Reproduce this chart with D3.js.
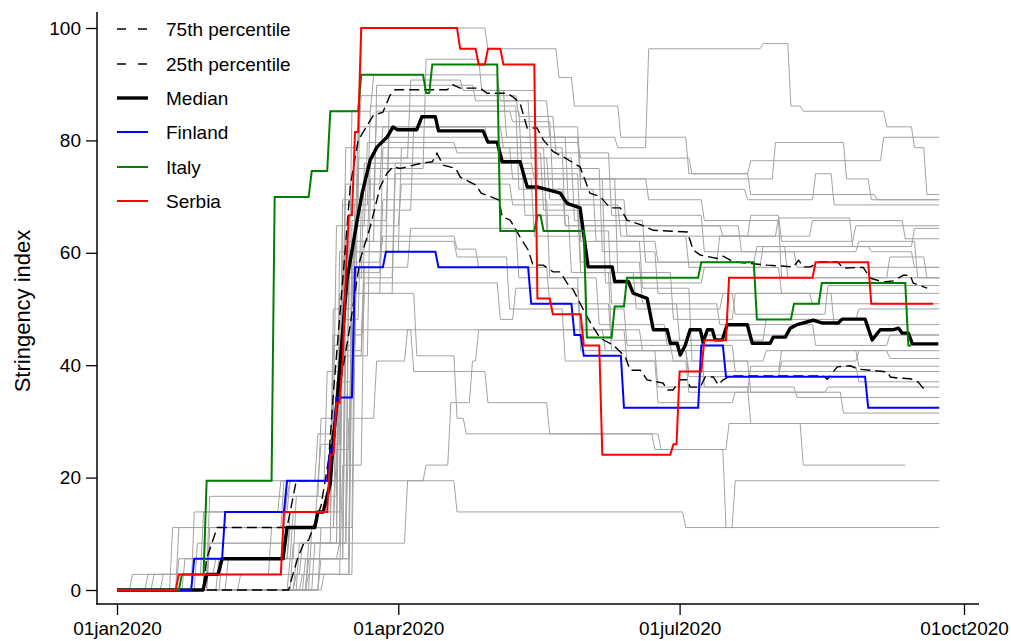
<!DOCTYPE html>
<html><head><meta charset="utf-8">
<script src="https://cdn.jsdelivr.net/npm/d3@7"></script>
<style>body{margin:0;background:#fff} svg{display:block} text{font-family:"Liberation Sans",Arial,sans-serif;fill:#000}</style>
</head><body><svg id="c" width="1011" height="641"></svg>
<script>
// ---------- DATA (day offsets from 01jan2020, stringency index) ----------
const xTickDates = ["2020-01-01","2020-04-01","2020-07-01","2020-10-01"];
const yTicks = [0,20,40,60,80,100];
const legendLabels = ["75th percentile","25th percentile","Median","Finland","Italy","Serbia"];

// Highlighted countries: step change points [day, value]
const finland = [[0,0],[25,5.56],[35,13.89],[55,19.44],[69,25],[71,34.26],[77,57.41],[87,60.19],[104,57.41],[134,50.93],[148,45.37],[151,41.67],[164,32.41],[189,43.52],[197,37.96],[243,32.41]];
const finlandEnd = 266;
const italy = [[0,0],[21,2.78],[29,19.44],[51,69.91],[63,74.54],[69,85.19],[79,91.67],[100,88.43],[102,93.52],[124,63.89],[136,66.67],[138,63.89],[152,44.91],[161,50.46],[165,55.56],[189,58.33],[207,48.15],[219,50.93],[228,54.63],[256,43.52]];
const italyEnd = 257;
const serbia = [[0,0],[20,2.78],[54,13.89],[69,24.07],[71,33.33],[73,40.74],[74,55.56],[75,66.67],[77,81.48],[79,100],[111,96.3],[117,93.52],[120,96.3],[125,93.52],[136,51.85],[141,49.07],[151,43.52],[157,24.07],[180,25.93],[182,38.89],[190,44.44],[198,55.56],[226,58.33],[244,50.93]];
const serbiaEnd = 264;

// Summary lines: points [day, value]
const median = [[0,0],[27.8,0],[29.1,2.78],[32.7,2.78],[34,5.56],[53.7,5.56],[55,11.11],[64,11.11],[65,13.89],[66.7,13.89],[69,19],[70,26.7],[71.2,33.8],[74.4,55.2],[77.7,65.8],[79.3,70.6],[81.9,76.5],[84.1,78.8],[87.4,80.6],[89.3,82.4],[90.6,81.9],[97,81.9],[98.6,84.2],[103,84.2],[104,81.7],[118.4,81.7],[120,79.7],[123,79.7],[124.6,76.2],[130.4,76.2],[132.7,71.7],[136.2,71.7],[143.4,70.6],[145.6,68.8],[149.8,68],[152.4,57.5],[160.2,57.5],[161,54.9],[165.4,54.9],[167,52.8],[171.5,51.9],[173.5,46.3],[178,46.3],[179,43.9],[181.2,43.9],[182.2,41.8],[183.8,43.5],[185.4,46.3],[188.7,46.3],[189.6,44.1],[191,46.3],[192.6,46.3],[193.5,44.5],[195.8,44.5],[197.4,47.2],[203.9,47.2],[205.5,43.9],[211.3,43.9],[212.3,45],[216.2,45],[217.8,46.6],[220,47.2],[225.2,48],[228.2,47.5],[233.3,47.5],[234.6,48.2],[242,48.2],[244.3,44.5],[246.9,46.3],[251,46.3],[252.8,46.6],[254,45.7],[256,45.7],[257.3,43.8],[265.7,43.8]];
const p75 = [[0,0],[27.8,0],[29,5.56],[32.4,11.11],[55,11.11],[58,19.44],[68,19.44],[70,35],[73,55],[75.5,72],[78,80],[83,84.5],[86,85],[88.3,88],[90,89],[106.8,89],[108.7,89.9],[111,89.3],[117.5,89.3],[119.7,88.4],[126.2,88.4],[128.2,87.7],[130.4,86.6],[132.7,82.2],[135.9,82.2],[137.9,80.1],[141.1,78],[144.3,77.1],[147.6,76],[149.8,75.3],[153,70.6],[156.3,70],[159.5,68],[162.8,68],[165,65.8],[169.3,65],[173.5,64],[184.5,63.7],[186.4,60.5],[188.7,59.6],[194.2,59],[196.1,59.4],[199.4,58.4],[210.4,57.8],[218.8,57.5],[220.5,58.7],[222,57.5],[224.3,57.5],[227.5,58.4],[233,58.4],[235,57.3],[241.4,57.4],[243.7,55.5],[247.9,54.8],[251.1,55],[254.4,56],[256.6,56],[257.6,54.6],[262.1,53.7]];
const p25 = [[0,0],[55.5,0],[57,3],[58.6,5.9],[60.5,8.4],[62,8.9],[66,15],[69,25],[72,36],[75.4,47],[78.6,58.7],[81.9,64.6],[83.5,68.1],[85.1,71.7],[87.4,74.2],[89.3,75.3],[91.6,75],[99,76],[102,76.2],[103.5,77.7],[105.5,75.6],[109.6,75],[111,73.5],[116.2,72],[117.8,70.6],[120.7,70],[123.6,69.4],[124.6,66.4],[127.2,65.8],[130.4,62.8],[133,60.5],[134.6,57.8],[137.9,57.8],[141.1,56.6],[143.4,56.6],[145.6,54.6],[147.6,53.4],[149.8,51],[152.1,48.6],[154,46.8],[156.3,44.8],[160.5,43.6],[164.4,41.5],[166,39.1],[169.3,39.1],[171.5,37.4],[176.7,36.8],[178,35.6],[179.9,35.6],[182.2,37.4],[184.5,37.4],[185.4,36.1],[188.7,36.1],[190.3,37.9],[192.9,37.9],[194.5,36.5],[196.1,37.4],[198.4,38.1],[228.5,38.1],[229.8,37.5],[233,39.7],[237.2,39.9],[239.8,39.3],[249.2,38.8],[250.2,37.9],[252.8,37.7],[256.6,37.6],[259.2,37],[260.5,36.1],[261.5,35.6]];

// Other countries (grey): step change points [day, value]
const g1 = [[0,0],[20,11.11],[54,19.44],[70,50],[76,85.19],[83,91.67],[124,87.04],[140,80.56],[162,78.7],[172,96.3],[209,97.22],[218,86.11],[222,85.19],[249,82.41],[258,78.7],[262,70.37]];
const g2 = [[0,0],[30,11.11],[55,19.44],[72,60.19],[78,82.41],[120,79.63],[150,76.85],[186,74.07],[205,76.39],[248,80.56]];
const g3 = [[0,0],[26,8.33],[55,11.11],[73,55.56],[80,75.93],[135,73.15],[213,79.63],[236,73.15],[244,69.44]];
const g4 = [[0,0],[56,5.56],[74,62.04],[82,76.85],[140,69.44],[165,62.96],[205,66.67],[215,62.04],[239,64.81]];
const g5 = [[0,0],[61,5.56],[76,65.74],[88,80.56],[150,71.3],[204,69.44],[226,74.07],[232,68.52]];
const g6 = [[0,0],[62,8.33],[75,56.48],[86,78.7],[145,64.81],[196,62.96],[214,66.2],[238,61.11],[258,64.35]];
const g7 = [[0,0],[22,5.56],[54,11.11],[72,52.78],[90,74.07],[150,62.04],[175,58.33],[207,61.11],[244,60.19],[258,57.41]];
const g8 = [[0,0],[58,2.78],[76,60.19],[92,78.7],[128,73.15],[158,54.63],[190,57.41],[209,61.11],[217,55.56],[250,59.26],[262,55.56]];
const gA = [[0,0],[29,19.44],[100,22.22],[108,33.33],[115,40.74],[117,46.3],[165,40.74],[185,35.19],[205,39.81],[240,37.04]];
const gB = [[0,0],[66,5.56],[72,8.33],[94,19.44],[110,13.89],[184,11.11],[200,19.44]];
const gC = [[0,0],[58,5.56],[74,42.59],[80,52.78],[97,41.67],[110,30.56],[113,27.78],[176,25],[198,29.63],[222,22.22]];
const gD = [[0,0],[60,2.78],[77,46.3],[96,38.89],[120,33.33],[140,27.78],[174,25],[197,11.11]];
const gF = [[0,0],[40,2.78],[60,8.33],[72,45.37],[80,54.63],[124,48.15],[129,53.7],[150,46.3],[170,42.59],[190,45.37]];
const gG = [[0,0],[62,5.56],[76,58.33],[86,62.96],[110,60.65],[117,57.41],[140,50.93],[160,42.59],[185,38.89],[215,42.59],[250,41.2]];
const gJ = [[0,0],[64,8.33],[75,30.56],[84,40.74],[94,46.3],[158,42.59],[185,37.96],[215,40.74],[240,42.59]];
const gK = [[0,0],[33,5.56],[56,13.89],[70,45.37],[74,78.7],[79,87.96],[130,84.26],[142,77.78],[160,66.67],[190,60.19],[220,57.41]];
const gL = [[0,0],[10,2.78],[30,16.67],[56,19.44],[68,38.89],[74,72.22],[86,82.41],[150,73.15],[172,69.44],[190,65.74],[215,55.56]];
const gM = [[0,0],[20,5.56],[57,13.89],[73,50],[77,69.44],[84,85.19],[131,75],[157,60.19],[175,52.78],[200,49.07],[230,54.17]];
const gN = [[0,0],[18,11.11],[55,16.67],[66,30.56],[71,64.81],[81,79.63],[110,77.78],[138,67.59],[150,56.48],[168,50],[196,52.78],[225,50.93]];
const gO = [[0,0],[30,8.33],[55,11.11],[65,19.44],[73,59.26],[78,76.85],[95,90.74],[112,88.89],[126,80.56],[146,68.52],[163,62.96],[185,57.41],[215,52.78]];
const gP = [[0,0],[62,2.78],[76,41.67],[82,73.15],[135,62.96],[152,50],[165,43.52],[180,40.74],[210,42.59],[240,39.81]];
const gQ = [[0,0],[15,2.78],[32,5.56],[55,11.11],[71,25],[76,52.78],[86,69.44],[140,55.56],[156,47.22],[178,43.52],[200,38.89]];
const gR = [[0,0],[34,5.56],[56,11.11],[74,55.56],[90,75.93],[132,66.67],[147,56.48],[160,44.44],[190,36.11],[220,34.26]];
const gS = [[0,0],[66,11.11],[77,60.19],[88,85.19],[128,83.33],[141,71.3],[155,62.04],[170,53.7],[186,40.74],[205,35.19],[235,31.48]];
const gT = [[0,0],[57,8.33],[70,43.52],[78,75],[100,94.44],[118,88.89],[136,73.15],[162,56.48],[180,48.15],[200,52.78],[232,47.22]];
const gU = [[0,0],[67,2.78],[73,22.22],[80,57.41],[95,64.35],[130,55.56],[150,42.59],[175,36.11],[205,29.63]];
const gV = [[0,0],[5,2.78],[28,13.89],[56,19.44],[65,27.78],[73,68.52],[82,86.11],[130,71.3],[145,64.81],[202,60.19],[240,62.04],[259,55.56]];
const gW = [[0,0],[25,13.89],[53,19.44],[66,25.93],[73,69.44],[79,100],[120,96.3],[143,91.2],[148,86.11],[163,80.56],[185,74.07],[205,70.37],[246,69.44]];
const gX = [[0,0],[12,2.78],[50,11.11],[71,37.04],[77,64.81],[92,72.22],[128,68.52],[150,58.33],[170,50.93],[195,47.22],[226,43.52],[250,45.37]];
const gY = [[0,0],[59,8.33],[73,48.15],[79,67.59],[96,82.41],[125,78.7],[139,63.89],[160,50.93],[182,44.44],[210,48.15],[240,50]];
const gZ = [[0,0],[63,11.11],[75,62.04],[84,89.81],[116,87.04],[134,76.85],[148,65.74],[171,58.33],[195,62.96],[225,65.74],[255,62.5]];
const gAA = [[0,0],[36,5.56],[58,16.67],[72,41.67],[80,62.04],[110,59.26],[127,50],[145,40.74],[175,33.33],[200,35.19],[230,36.11]];
const greySeries = [g1,g2,g3,g4,g5,g6,g7,g8,gA,gB,gC,gD,gF,gG,gJ,gK,gL,gM,gN,gO,gP,gQ,gR,gS,gT,gU,gV,gW,gX,gY,gZ,gAA];
const greyEnds = [266,266,266,266,266,266,266,266,266,266,255,266,266,266,266,266,266,266,266,266,266,266,266,266,266,266,266,266,266,266,266,266];

// ---------- DRAWING ----------
const svg = d3.select("#c");
const t0 = Date.UTC(2020,0,1);
const toDate = d => new Date(t0 + d*864e5);
const x = d3.scaleUtc().domain([toDate(0), new Date(Date.UTC(2020,9,1))]).range([117,964]);
const y = d3.scaleLinear().domain([0,100]).range([590,28]);

// daily step series: a change on day d is reached from the previous value on day d-1
function stepPoints(ch, end){
  const pts=[];
  ch.forEach((c,i)=>{ if(i>0) pts.push([c[0]-1, ch[i-1][1]]); pts.push(c); });
  pts.push([end, ch[ch.length-1][1]]);
  return pts;
}
const line = d3.line().x(d=>x(toDate(d[0]))).y(d=>y(d[1]));

const plot = svg.append("g");
greySeries.forEach((s,i)=>{
  plot.append("path").attr("d", line(stepPoints(s, greyEnds[i])))
    .attr("fill","none").attr("stroke","#a3a3a3").attr("stroke-width",1);
});
plot.append("path").attr("d", line(p75)).attr("fill","none").attr("stroke","#000").attr("stroke-width",1.4).attr("stroke-dasharray","10,5");
plot.append("path").attr("d", line(p25)).attr("fill","none").attr("stroke","#000").attr("stroke-width",1.4).attr("stroke-dasharray","10,5");
plot.append("path").attr("d", line(median)).attr("fill","none").attr("stroke","#000").attr("stroke-width",3.4).attr("stroke-linejoin","round");
plot.append("path").attr("d", line(stepPoints(finland, finlandEnd))).attr("fill","none").attr("stroke","#0000ff").attr("stroke-width",2);
plot.append("path").attr("d", line(stepPoints(italy, italyEnd))).attr("fill","none").attr("stroke","#008000").attr("stroke-width",2);
plot.append("path").attr("d", line(stepPoints(serbia, serbiaEnd))).attr("fill","none").attr("stroke","#ff0000").attr("stroke-width",2);

// axes
const yAxis = d3.axisLeft(y).tickValues(yTicks).tickSize(11).tickPadding(5);
const gy = svg.append("g").attr("transform","translate(97,0)").call(yAxis);
gy.select(".domain").remove();
gy.selectAll("line").attr("stroke","#000").attr("stroke-width",1.3);
gy.selectAll("text").style("font-size","19px").style("font-family",'"Liberation Sans",Arial,sans-serif');

const xDates = xTickDates.map(s=>new Date(s+"T00:00:00Z"));
const fmt = d3.utcFormat("%d%b%Y");
const xAxis = d3.axisBottom(x).tickValues(xDates).tickSize(11).tickPadding(7).tickFormat(d=>fmt(d).toLowerCase());
const gx = svg.append("g").attr("transform","translate(0,604)").call(xAxis);
gx.select(".domain").remove();
gx.selectAll("line").attr("stroke","#000").attr("stroke-width",1.3);
gx.selectAll("text").style("font-size","19px").style("font-family",'"Liberation Sans",Arial,sans-serif');

svg.append("line").attr("x1",97).attr("x2",97).attr("y1",12).attr("y2",604.6).attr("stroke","#000").attr("stroke-width",1.5);
svg.append("line").attr("x1",96.3).attr("x2",979).attr("y1",604).attr("y2",604).attr("stroke","#000").attr("stroke-width",1.5);

svg.append("text").attr("transform","translate(30,311) rotate(-90)").attr("text-anchor","middle")
  .style("font-size","22px").text("Stringency index");

// legend
const legY = [29,64,98,132,167,201];
const legStyle = [
  {c:"#000",w:1.4,da:"9,12"},{c:"#000",w:1.4,da:"9,12"},{c:"#000",w:3.4,da:null},
  {c:"#0000ff",w:2,da:null},{c:"#008000",w:2,da:null},{c:"#ff0000",w:2,da:null}];
legendLabels.forEach((lab,i)=>{
  const l = svg.append("line").attr("x1",117).attr("x2",148).attr("y1",legY[i]).attr("y2",legY[i])
    .attr("stroke",legStyle[i].c).attr("stroke-width",legStyle[i].w);
  if(legStyle[i].da) l.attr("stroke-dasharray",legStyle[i].da);
  svg.append("text").attr("x",166).attr("y",legY[i]).attr("dy","0.35em").style("font-size","19px").text(lab);
});
</script></body></html>
